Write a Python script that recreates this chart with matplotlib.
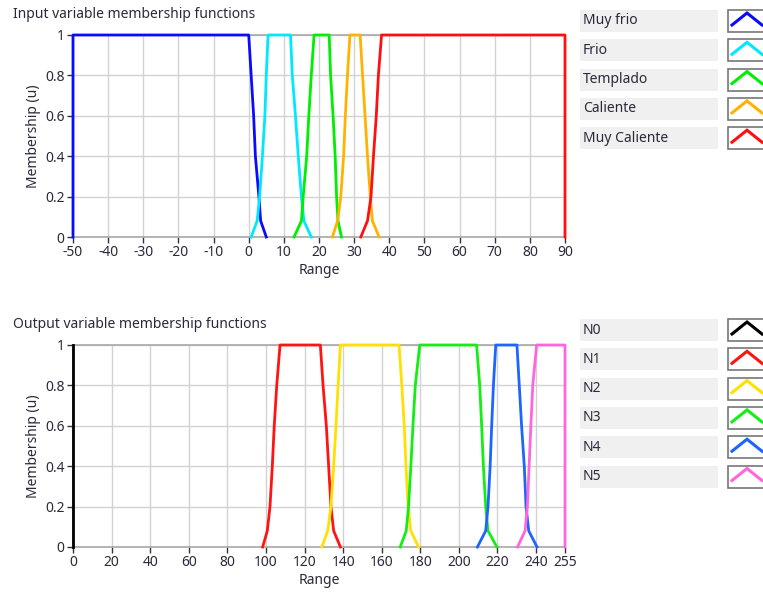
import matplotlib
matplotlib.use("Agg")
import matplotlib.pyplot as plt
from matplotlib.patches import Rectangle

plt.rcParams["font.family"] = ["Noto Sans", "DejaVu Sans"]

# membership levels shared by the trapezoid-like curves (rise, plateau, fall)
levels = [0, 0.08, 0.2, 0.4, 0.6, 0.8, 1, 1, 0.8, 0.6, 0.4, 0.2, 0.08, 0]

# Input variable
in_names = ["Muy frio", "Frio", "Templado", "Caliente", "Muy Caliente"]
in_colors = ["#0a0aff", "#00e8ff", "#00ee00", "#ffb300", "#ff1010"]
muy_frio_x = [-50, -50, 0, 0.7, 1.4, 1.9, 2.9, 3.4, 5.0]
muy_frio_y = [0, 1, 1, 0.8, 0.6, 0.4, 0.2, 0.08, 0]
frio_x = [0.7, 2.4, 3.1, 3.9, 4.6, 5.0, 5.5, 11.9, 12.4, 13.3, 14.1, 15.0, 15.7, 17.8]
templado_x = [12.9, 15.0, 15.5, 16.5, 17.1, 17.8, 18.6, 22.9, 23.3, 24.0, 24.6, 25.0, 25.4, 26.4]
caliente_x = [23.8, 25.3, 26.2, 27.0, 27.5, 28.1, 28.8, 31.7, 32.4, 33.1, 33.8, 34.6, 35.2, 37.1]
muy_caliente_x = [31.9, 33.8, 34.8, 35.5, 36.3, 36.9, 37.8, 90, 90]
muy_caliente_y = [0, 0.08, 0.2, 0.4, 0.6, 0.8, 1, 1, 0]
in_ticks = [-50, -40, -30, -20, -10, 0, 10, 20, 30, 40, 50, 60, 70, 80, 90]

# Output variable
out_names = ["N0", "N1", "N2", "N3", "N4", "N5"]
out_colors = ["#000000", "#ff1414", "#ffe000", "#14ee14", "#1e64ff", "#ff66dd"]
n0_x = [0, 0]
n0_y = [0, 1]
n1_x = [98.3, 100.7, 102.1, 103.3, 104.3, 105.6, 107.3, 128.2, 129.6, 131.3, 132.5, 133.7, 135.1, 138.6]
n2_x = [129.0, 132.0, 133.7, 135.1, 136.3, 137.4, 138.6, 169.0, 170.4, 171.7, 172.6, 173.7, 175.1, 179.1]
n3_x = [169.6, 172.7, 173.9, 175.1, 176.2, 177.4, 179.7, 209.2, 210.8, 211.8, 212.7, 213.9, 215.1, 219.7]
n4_x = [209.6, 213.9, 215.1, 216.2, 217.0, 217.9, 219.1, 230.1, 231.3, 232.5, 233.9, 234.8, 236.2, 240.5]
n5_x = [230.4, 234.3, 235.5, 236.4, 237.3, 238.3, 240.3, 255, 255]
n5_y = [0, 0.08, 0.2, 0.4, 0.6, 0.8, 1, 1, 0]
out_ticks = [0, 20, 40, 60, 80, 100, 120, 140, 160, 180, 200, 220, 240, 255]

y_ticks = [0, 0.2, 0.4, 0.6, 0.8, 1]
y_labels = ["0", "0.2", "0.4", "0.6", "0.8", "1"]

W, H = 763, 597
fig = plt.figure(figsize=(W / 100, H / 100), dpi=100)
fig.patch.set_facecolor("white")
txt = "#2a2a3a"


def setup_axes(ax, xlim, ticks):
    ax.set_xlim(*xlim)
    ax.set_ylim(0, 1)
    ax.set_xticks(ticks)
    ax.set_xticklabels([str(t) for t in ticks])
    ax.set_yticks(y_ticks)
    ax.set_yticklabels(y_labels)
    ax.grid(True, color="#d2d2d2", lw=1.0)
    ax.set_axisbelow(True)
    for s in ax.spines.values():
        s.set_color("#a8a8a8")
        s.set_linewidth(1.2)
    ax.tick_params(direction="out", length=4, width=1, color="#333333",
                   labelsize=10, labelcolor=txt, pad=2)
    ax.set_xlabel("Range", fontsize=10, color=txt, labelpad=2)
    ax.set_ylabel("Membership (u)", fontsize=10, color=txt, labelpad=3)


def px_axes(x0, y0, x1, y1):
    return fig.add_axes([x0 / W, 1 - y1 / H, (x1 - x0) / W, (y1 - y0) / H])


def draw_legend(names, colors, y_first):
    lax = px_axes(575, 0, W, H)
    lax.set_xlim(575, W)
    lax.set_ylim(H, 0)
    lax.axis("off")
    for i, (name, col) in enumerate(zip(names, colors)):
        yc = y_first + i * 29.3
        lax.add_patch(Rectangle((580, yc - 11), 138, 22, facecolor="#f0f0f0", edgecolor="none"))
        lax.text(583, yc, name, fontsize=10, color=txt, va="center", ha="left")
        lax.add_patch(Rectangle((728, yc - 11), 36, 22, facecolor="white", edgecolor="#777777",
                                lw=1.2, clip_on=False))
        lax.plot([732, 747, 762], [yc + 4, yc - 8, yc + 4], color=col, lw=2.2,
                 solid_joinstyle="miter")


def curve(ax, x, y, color):
    ax.plot(x, y, color=color, lw=2, clip_on=False, zorder=3)


ax1 = px_axes(73, 35, 565, 237)
setup_axes(ax1, (-50, 90), in_ticks)
curve(ax1, muy_frio_x, muy_frio_y, in_colors[0])
curve(ax1, frio_x, levels, in_colors[1])
curve(ax1, templado_x, levels, in_colors[2])
curve(ax1, caliente_x, levels, in_colors[3])
curve(ax1, muy_caliente_x, muy_caliente_y, in_colors[4])
fig.text(13 / W, 1 - 15 / H, "Input variable membership functions", fontsize=10,
         color=txt, va="center", ha="left")
draw_legend(in_names, in_colors, 21)

ax2 = px_axes(73, 345, 565, 547)
setup_axes(ax2, (0, 255), out_ticks)
curve(ax2, n0_x, n0_y, out_colors[0])
curve(ax2, n1_x, levels, out_colors[1])
curve(ax2, n2_x, levels, out_colors[2])
curve(ax2, n3_x, levels, out_colors[3])
curve(ax2, n4_x, levels, out_colors[4])
curve(ax2, n5_x, n5_y, out_colors[5])
fig.text(13 / W, 1 - 324 / H, "Output variable membership functions", fontsize=10,
         color=txt, va="center", ha="left")
draw_legend(out_names, out_colors, 330)

fig.savefig("out.png", dpi=100)
